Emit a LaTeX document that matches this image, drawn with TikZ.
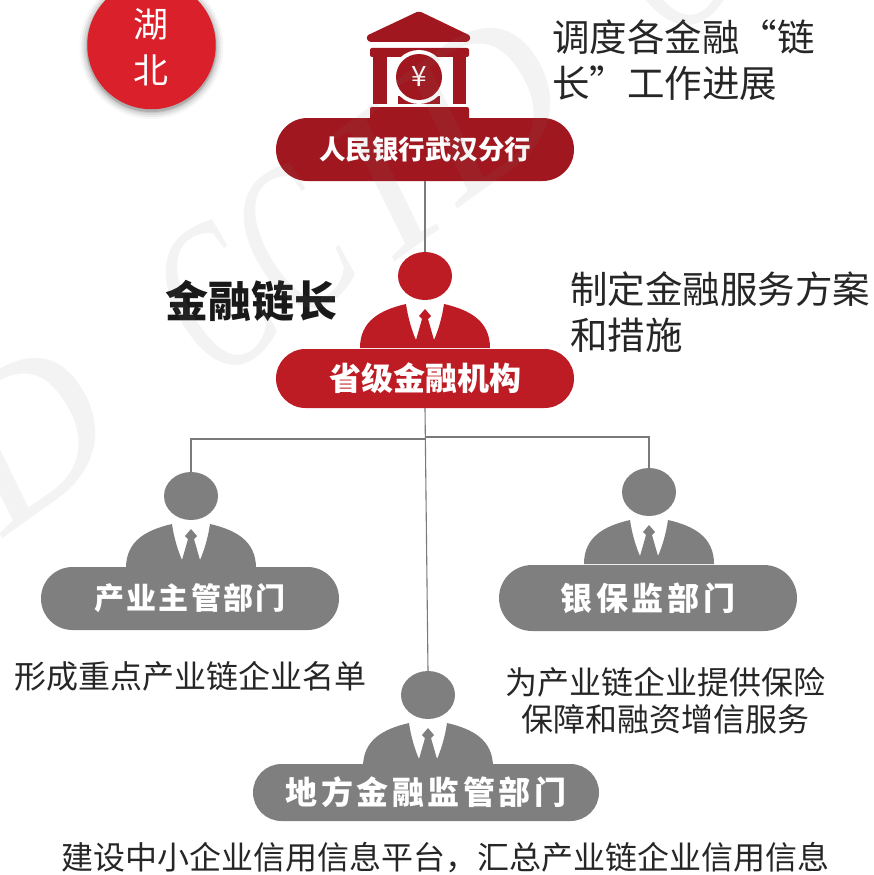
\documentclass[tikz,border=0pt]{standalone}
\usepackage{fontspec}
\setmainfont{Noto Sans CJK SC}
\newfontfamily\wmfont{Liberation Serif}
\usetikzlibrary{shapes.misc,shapes.geometric}
\definecolor{bankred}{HTML}{A0171F}
\definecolor{chainred}{HTML}{BE1C24}
\definecolor{badgered}{HTML}{DA202B}
\definecolor{deptgray}{HTML}{7F7F7F}
\definecolor{linegray}{HTML}{7A7A7A}
\definecolor{notetext}{HTML}{262626}
\tikzset{
  pill/.style={rounded rectangle,draw=none,inner sep=0pt,text=white,font=\bfseries\fontsize{32}{34}\selectfont},
  pillsp/.style={pill,font=\bfseries\fontsize{32}{34}\selectfont\addfontfeature{LetterSpace=11}},
  note/.style={inner sep=0pt,text=notetext,font=\fontsize{37.5}{46}\selectfont,align=left,anchor=north west},
  note2/.style={inner sep=0pt,text=notetext,font=\fontsize{32}{37}\selectfont,align=center},
  link/.style={draw=linegray,line width=1.1pt},
  head/.style={ellipse,inner sep=0pt,minimum width=54pt,minimum height=48pt},
  wmletter/.style={rotate=36,anchor=base west,inner sep=0pt,text=deptgray,opacity=0.09,font=\wmfont\itshape\fontsize{213}{213}\selectfont},
}
\newcommand{\personfig}[4]{% name, cx, cy of head, colour
  \node[head,fill=#4] (#1) at (#2,#3) {};
  \begin{scope}[shift={(#2,#3)}]
    \fill[#4] (-65,72) .. controls (-65,45) and (-45,34) .. (-19,28)
      .. controls (-17,42) and (-13,55) .. (-9,64) -- (-3,43) -- (-6,40) -- (0,33) -- (6,40) -- (3,43) -- (9,64)
      .. controls (13,55) and (17,42) .. (19,28)
      .. controls (45,34) and (65,45) .. (65,72) -- cycle;
  \end{scope}
}
\begin{document}
\begin{tikzpicture}[x=1pt,y=-1pt]
\useasboundingbox (0,0) rectangle (873,875);
\coordinate (ljoin) at (425,439);
\coordinate (rjoin) at (425,437);
% badge with soft shadow
\foreach \r/\o in {72/0.03,70/0.05,68/0.07,66/0.09,65/0.11}{
  \fill[black,opacity=\o] (151.5,47) circle (\r);
}
\node[circle,fill=badgered,minimum size=128.5pt,inner sep=0pt] (badge) at (151.5,45) {};
\node[inner sep=0pt,text=white,font=\fontsize{35}{46}\selectfont,align=center] (badgetext) at (151,47) {湖\\北};
% bank icon
\fill[bankred,rounded corners=3pt] (419,11) -- (471,36) -- (469,42) -- (368,42) -- (366,36) -- cycle;
\fill[bankred,rounded corners=2pt] (370,48) rectangle (469,57);
\fill[bankred] (373,55) rectangle (387,104);
\fill[bankred] (453,55) rectangle (466,104);
\fill[bankred] (398,96) rectangle (440,104);
\fill[white] (419,77) circle (27);
\node[circle,fill=bankred,minimum size=46pt,inner sep=0pt,text=white,font=\fontsize{28}{28}\selectfont] (yen) at (419,77) {¥};
\fill[bankred,rounded corners=2pt] (370,107) rectangle (469,120);
% boxes
\node[pill,fill=bankred,minimum width=298pt,minimum height=63pt,font=\bfseries\fontsize{26.5}{30}\selectfont] (bank) at (425,149.5) {人民银行武汉分行};
\personfig{hchain}{425}{276}{chainred}
\node[pill,fill=chainred,minimum width=298pt,minimum height=59pt] (prov) at (425,378.5) {省级金融机构};
\personfig{hind}{191}{496}{deptgray}
\personfig{hreg}{649}{492}{deptgray}
\personfig{hloc}{428}{695}{deptgray}
\node[pill,fill=deptgray,minimum width=298pt,minimum height=63pt,font=\bfseries\fontsize{30}{34}\selectfont\addfontfeature{LetterSpace=7}] (ind) at (190,598.5) {产业主管部门};
\node[pillsp,fill=deptgray,minimum width=298pt,minimum height=66pt] (reg) at (648,598) {银保监部门};
\node[pillsp,fill=deptgray,minimum width=346pt,minimum height=57pt] (loc) at (426,792.5) {地方金融监管部门};
% connectors
\draw[link] (bank.south) -- (hchain.north);
\draw[link] (prov.south) -- (hloc.north);
\draw[link] (ljoin) -| (hind.north);
\draw[link] (rjoin) -| (hreg.north);
% text
\node[note] (n1) at (552,19.5) {调度各金融“链\\长”工作进展};
\node[note] (n2) at (570,271) {制定金融服务方案\\和措施};
\node[inner sep=0pt,text=black!90,font=\bfseries\fontsize{43}{43}\selectfont] (chain) at (251.5,301) {金融链长};
\node[note2] (n3) at (190,676) {形成重点产业链企业名单};
\node[note2] (n4) at (665,701) {为产业链企业提供保险\\保障和融资增信服务};
\node[note2] (n5) at (445,858) {建设中小企业信用信息平台，汇总产业链企业信用信息};
% watermark
\node[wmletter] (wm1) at (4,538) {D};
\node[wmletter] (wm2) at (216,385) {\scalebox{.65}[1]{C}};
\node[wmletter] (wm3) at (294,328) {\scalebox{.65}[1]{C}};
\node[wmletter] (wm4) at (395,262) {I};
\node[wmletter] (wm5) at (459,208) {D};
\node[wmletter] (wm6) at (668,45) {\scalebox{.65}[1]{C}};
\end{tikzpicture}
\end{document}
